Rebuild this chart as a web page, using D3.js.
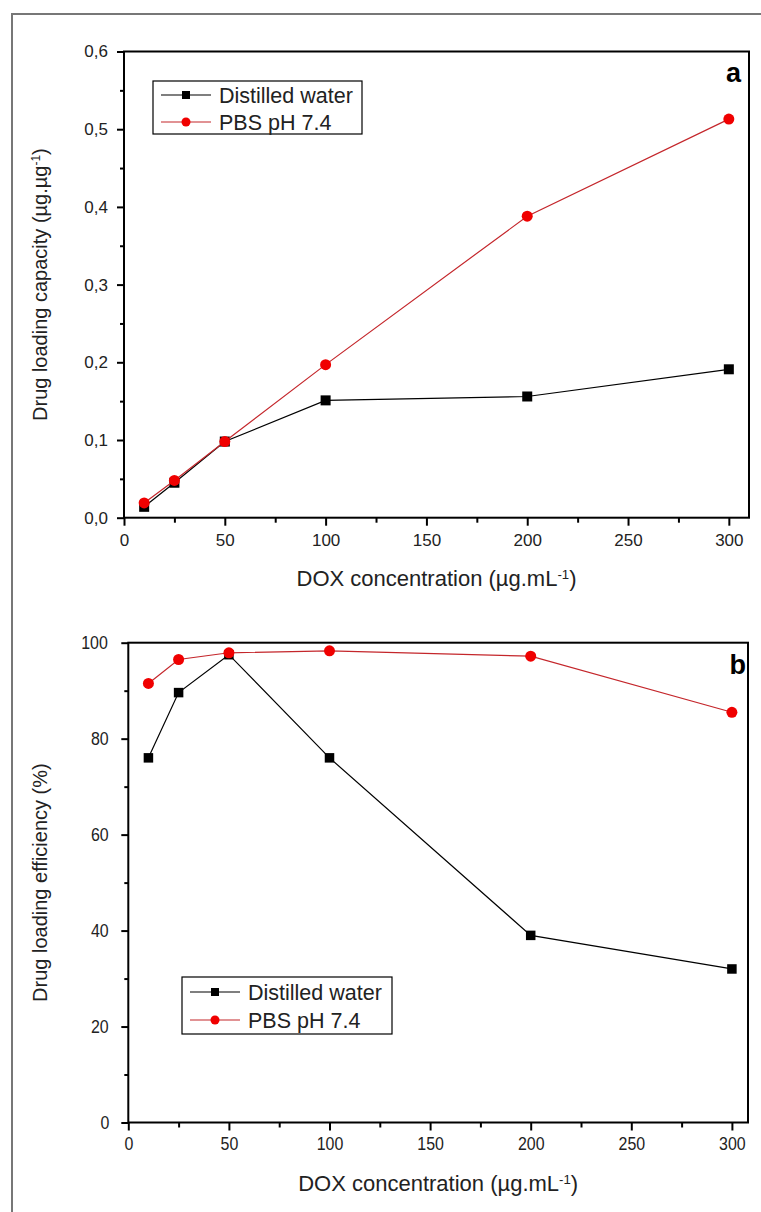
<!DOCTYPE html>
<html>
<head>
<meta charset="utf-8">
<script src="https://cdn.jsdelivr.net/npm/d3@7"></script>
<style>
  html, body { margin: 0; padding: 0; background: #fff; }
  svg { display: block; }
  text { font-family: "Liberation Sans", Arial, sans-serif; fill: #222; }
  .narrow text { transform-box: fill-box; transform-origin: center; transform: scaleX(0.84); }
</style>
</head>
<body>
<svg id="fig" width="761" height="1212"></svg>
<script>
// DOX concentrations (µg/mL) shared by both panels
const doxConc = [10, 25, 50, 100, 200, 300];

// Panel a: drug loading capacity (µg/µg)
const capacityWater = [0.014, 0.045, 0.098, 0.151, 0.156, 0.191];
const capacityPBS   = [0.019, 0.048, 0.098, 0.197, 0.388, 0.513];

// Panel b: drug loading efficiency (%)
const efficiencyWater = [76.0, 89.6, 97.5, 76.0, 39.0, 32.0];
const efficiencyPBS   = [91.5, 96.5, 97.9, 98.3, 97.2, 85.5];

// Axis ticks
const xTicks = [0, 50, 100, 150, 200, 250, 300];
const xMinorTicks = [25, 75, 125, 175, 225, 275];
const capTicks = [0, 0.1, 0.2, 0.3, 0.4, 0.5, 0.6];
const capMinorTicks = [0.05, 0.15, 0.25, 0.35, 0.45, 0.55];
const effTicks = [0, 20, 40, 60, 80, 100];
const effMinorTicks = [10, 30, 50, 70, 90];

const seriesNames = ["Distilled water", "PBS pH 7.4"];

const BLACK = "#000";
const RED_LINE = "#c4262b";
const RED_FILL = "#f00000";

const svg = d3.select("#fig");

// outer figure frame (top and left edges visible)
svg.append("rect")
  .attr("x", 12).attr("y", 14)
  .attr("width", 800).attr("height", 1250)
  .attr("fill", "none").attr("stroke", "#777").attr("stroke-width", 2);

function drawPanel(cfg) {
  const g = svg.append("g");
  const x = d3.scaleLinear().domain(cfg.xDomain).range([cfg.left, cfg.right]);
  const y = d3.scaleLinear().domain(cfg.yDomain).range([cfg.bottom, cfg.top]);
  const labelClass = cfg.narrow ? "narrow" : null;

  // minor ticks
  g.append("g")
    .attr("transform", `translate(0,${cfg.bottom})`)
    .call(d3.axisBottom(x).tickValues(xMinorTicks).tickSize(5).tickFormat(""))
    .call(a => a.select(".domain").remove())
    .call(a => a.selectAll("line").attr("stroke", "#000").attr("stroke-width", 2));
  g.append("g")
    .attr("transform", `translate(${cfg.left},0)`)
    .call(d3.axisLeft(y).tickValues(cfg.yMinor).tickSize(4).tickFormat(""))
    .call(a => a.select(".domain").remove())
    .call(a => a.selectAll("line").attr("stroke", "#000").attr("stroke-width", 2));

  // major ticks with labels
  g.append("g")
    .attr("class", labelClass)
    .attr("transform", `translate(0,${cfg.bottom})`)
    .call(d3.axisBottom(x).tickValues(xTicks).tickSize(8).tickPadding(cfg.xPad))
    .call(a => a.select(".domain").remove())
    .call(a => a.selectAll("line").attr("stroke", "#000").attr("stroke-width", 2))
    .call(a => a.selectAll("text").attr("font-size", cfg.tickFont).style("fill", "#222")
      .attr("font-family", null));
  g.append("g")
    .attr("class", labelClass)
    .attr("transform", `translate(${cfg.left},0)`)
    .call(d3.axisLeft(y).tickValues(cfg.yTicks).tickSize(7).tickPadding(cfg.yPad).tickFormat(cfg.yFormat))
    .call(a => a.select(".domain").remove())
    .call(a => a.selectAll("line").attr("stroke", "#000").attr("stroke-width", 2))
    .call(a => a.selectAll("text").attr("font-size", cfg.tickFont).style("fill", "#222")
      .attr("font-family", null));

  // plot frame
  g.append("rect")
    .attr("x", cfg.left).attr("y", cfg.top)
    .attr("width", cfg.right - cfg.left).attr("height", cfg.bottom - cfg.top)
    .attr("fill", "none").attr("stroke", "#000").attr("stroke-width", 2);

  // axis titles
  const xt = g.append("text")
    .attr("x", (cfg.left + cfg.right) / 2).attr("y", cfg.bottom + cfg.xTitleOff)
    .attr("text-anchor", "middle").attr("font-size", cfg.xTitleFont);
  xt.append("tspan").text("DOX concentration (µg.mL");
  xt.append("tspan").attr("baseline-shift", "super").attr("font-size", "60%").text("-1");
  xt.append("tspan").text(")");

  const yt = g.append("text")
    .attr("transform", `translate(${cfg.yTitleX},${(cfg.top + cfg.bottom) / 2}) rotate(-90)`)
    .attr("text-anchor", "middle").attr("font-size", cfg.yTitleFont);
  yt.append("tspan").text(cfg.yTitle[0]);
  if (cfg.yTitle.length > 1) {
    yt.append("tspan").attr("baseline-shift", "super").attr("font-size", "60%").text(cfg.yTitle[1]);
    yt.append("tspan").text(cfg.yTitle[2]);
  }

  // series
  const line = d3.line().x(d => x(d[0])).y(d => y(d[1]));
  const waterPts = doxConc.map((c, i) => [c, cfg.water[i]]);
  const pbsPts = doxConc.map((c, i) => [c, cfg.pbs[i]]);

  g.append("path").datum(waterPts).attr("d", line)
    .attr("fill", "none").attr("stroke", BLACK).attr("stroke-width", 1.2);
  g.append("g").selectAll("rect").data(waterPts).join("rect")
    .attr("x", d => x(d[0]) - cfg.sq / 2).attr("y", d => y(d[1]) - cfg.sq / 2)
    .attr("width", cfg.sq).attr("height", cfg.sq).attr("fill", BLACK);

  g.append("path").datum(pbsPts).attr("d", line)
    .attr("fill", "none").attr("stroke", RED_LINE).attr("stroke-width", 1.2);
  g.append("g").selectAll("circle").data(pbsPts).join("circle")
    .attr("cx", d => x(d[0])).attr("cy", d => y(d[1]))
    .attr("r", cfg.rad).attr("fill", RED_FILL);

  // legend
  const L = cfg.legend;
  const lg = svg.append("g");
  lg.append("rect").attr("x", L.x).attr("y", L.y).attr("width", L.w).attr("height", L.h)
    .attr("fill", "#fff").attr("stroke", "#000").attr("stroke-width", 1.2);
  seriesNames.forEach((name, i) => {
    const cy = L.y + L.rowY[i];
    const col = i === 0 ? BLACK : RED_LINE;
    lg.append("line").attr("x1", L.x + 8).attr("x2", L.x + 58).attr("y1", cy).attr("y2", cy)
      .attr("stroke", col).attr("stroke-width", 1.2);
    if (i === 0) {
      lg.append("rect").attr("x", L.x + 33 - 4).attr("y", cy - 4).attr("width", 8).attr("height", 8).attr("fill", BLACK);
    } else {
      lg.append("circle").attr("cx", L.x + 33).attr("cy", cy).attr("r", 4.5).attr("fill", RED_FILL);
    }
    lg.append("text").attr("x", L.x + 66).attr("y", cy).attr("dy", "0.36em")
      .attr("font-size", L.font).text(name);
  });

  // panel letter
  svg.append("text").attr("x", cfg.letter.x).attr("y", cfg.letter.y)
    .attr("font-family", "'Liberation Serif', 'Times New Roman', serif")
    .attr("font-weight", "bold").attr("font-size", 27).attr("text-anchor", "end")
    .style("fill", "#000").text(cfg.letter.t);
}

const commaFmt = d => d3.format(".1f")(d).replace(".", ",");

drawPanel({
  left: 124, right: 749, top: 51.5, bottom: 517.7,
  xDomain: [0, 310], yDomain: [0, 0.6],
  yTicks: capTicks, yMinor: capMinorTicks, yFormat: commaFmt,
  tickFont: 17, xTitleFont: 22, yTitleFont: 20, xPad: 8, yPad: 9,
  xTitleOff: 68, yTitleX: 47,
  yTitle: ["Drug loading capacity (µg.µg", "-1", ")"],
  water: capacityWater, pbs: capacityPBS,
  sq: 10, rad: 5.5,
  legend: { x: 153, y: 81, w: 209, h: 53, rowY: [14, 41], font: 21.5 },
  letter: { x: 741, y: 82, t: "a" },
  narrow: false
});

drawPanel({
  left: 128.3, right: 748, top: 642.7, bottom: 1122.5,
  xDomain: [0, 308], yDomain: [0, 100],
  yTicks: effTicks, yMinor: effMinorTicks, yFormat: d3.format("d"),
  tickFont: 19, xTitleFont: 22, yTitleFont: 20, xPad: 6, yPad: 11,
  xTitleOff: 68, yTitleX: 47,
  yTitle: ["Drug loading efficiency (%)"],
  water: efficiencyWater, pbs: efficiencyPBS,
  sq: 9.5, rad: 5.5,
  legend: { x: 182, y: 977, w: 210, h: 57, rowY: [15, 43], font: 21.5 },
  letter: { x: 746, y: 674, t: "b" },
  narrow: true
});
</script>
</body>
</html>
